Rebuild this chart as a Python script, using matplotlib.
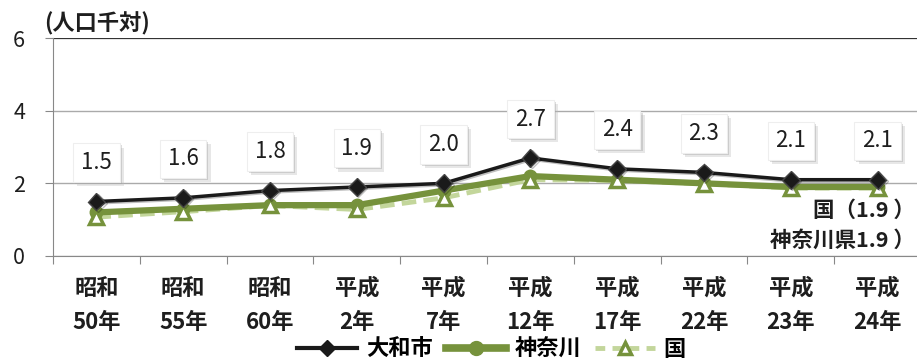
import matplotlib
matplotlib.use("Agg")
import matplotlib.pyplot as plt
import matplotlib.patheffects as pe
from matplotlib.lines import Line2D

plt.rcParams['font.family'] = ['Noto Sans CJK JP', 'DejaVu Sans']

categories = ["昭和\n50年", "昭和\n55年", "昭和\n60年", "平成\n2年", "平成\n7年",
              "平成\n12年", "平成\n17年", "平成\n22年", "平成\n23年", "平成\n24年"]
yamato = [1.5, 1.6, 1.8, 1.9, 2.0, 2.7, 2.4, 2.3, 2.1, 2.1]
kanagawa = [1.2, 1.3, 1.4, 1.4, 1.8, 2.2, 2.1, 2.0, 1.9, 1.9]
japan = [1.07, 1.22, 1.39, 1.28, 1.60, 2.10, 2.08, 1.99, 1.87, 1.87]
yticks = [0, 2, 4, 6]

OLIVE = "#76923c"
LIGHT = "#c3d69b"
TXT = "#1e1e1e"
x = list(range(len(categories)))

fig = plt.figure(figsize=(9.17, 3.6), dpi=100)
ax = fig.add_axes([53 / 917, 104 / 360, 868 / 917, 218 / 360])

ax.plot(x, japan, color=LIGHT, lw=3.5, ls=(0, (3, 1.5)), zorder=3)
ax.plot(x, kanagawa, color=OLIVE, lw=4.5, marker="o", ms=9,
        mfc=OLIVE, mec=OLIVE, zorder=4)
ax.plot(x, japan, ls="none", marker="^", ms=10, mfc="white",
        mec=OLIVE, mew=2.5, zorder=5)
ax.plot(x, yamato, color="#1a1a1a", lw=2.5, marker="D", ms=9,
        mfc="#1a1a1a", mec="#444444", zorder=6,
        path_effects=[pe.SimpleLineShadow(offset=(1, -1), alpha=0.25), pe.Normal()])

# value boxes above the city line, with a soft drop shadow
for xi, v in zip(x, yamato):
    t = ax.annotate(f"{v:.1f}", (xi, v), xytext=(0, 28), textcoords="offset points",
                    ha="center", va="center", fontsize=16, color=TXT,
                    bbox=dict(boxstyle="square,pad=0.35", fc="white", ec="#eeeeee", lw=0.8),
                    zorder=7)
    t.get_bbox_patch().set_path_effects([
        pe.SimplePatchShadow(offset=(3, -3), shadow_rgbFace="#bbbbbb", alpha=0.35),
        pe.SimplePatchShadow(offset=(1.5, -1.5), shadow_rgbFace="#999999", alpha=0.35),
        pe.Normal()])

ax.text(0.993, 1.27, "国（1.9 ）", transform=ax.get_yaxis_transform(),
        ha="right", va="center", fontsize=15.5, color=TXT, fontweight="bold", zorder=8)
ax.text(0.993, 0.43, "神奈川県1.9 ）", transform=ax.get_yaxis_transform(),
        ha="right", va="center", fontsize=15.5, color=TXT, fontweight="bold", zorder=8)

ax.set_xlim(-0.5, len(categories) - 0.5)
ax.set_ylim(0, 6)
ax.set_yticks(yticks)
ax.set_yticklabels([str(v) for v in yticks], fontsize=15.5, color=TXT)
ax.set_xticks([i - 0.5 for i in range(len(categories) + 1)])
ax.set_xticklabels([])
ax.set_xticks(x, minor=True)
ax.set_xticklabels(categories, minor=True, fontsize=16, linespacing=1.6,
                   fontweight="bold", color=TXT)
ax.tick_params(axis="x", which="minor", length=0, pad=15)
ax.tick_params(axis="x", which="major", length=6, color="#888888")
ax.tick_params(axis="y", length=6, color="#888888", pad=14)

ax.grid(axis="y", color="#aaaaaa", lw=1)
ax.axhline(6, color="#333333", lw=1.5, zorder=2)
for s in ["top", "right"]:
    ax.spines[s].set_visible(False)
ax.spines["left"].set_color("#888888")
ax.spines["bottom"].set_color("#888888")
ax.set_axisbelow(True)

fig.text(44 / 917, 1 - 24 / 360, "(人口千対)", fontsize=16, fontweight="bold",
         color=TXT, va="center", ha="left")

handles = [
    Line2D([], [], color="#1a1a1a", lw=3, marker="D", ms=8, mfc="#1a1a1a"),
    Line2D([], [], color=OLIVE, lw=5.5, marker="o", ms=10, mfc=OLIVE, mec=OLIVE),
    Line2D([], [], color=LIGHT, lw=3.5, ls=(0, (2, 1.5)), marker="^", ms=9,
           mfc="white", mec=OLIVE, mew=2.5),
]
fig.legend(handles, ["大和市", "神奈川", "国"], loc="center", ncol=3,
           bbox_to_anchor=(0.536, 11 / 360), frameon=False,
           prop=dict(weight="bold", size=16),
           handlelength=2.7, handletextpad=0.4, columnspacing=0.6)

fig.savefig("out.png", dpi=100)
